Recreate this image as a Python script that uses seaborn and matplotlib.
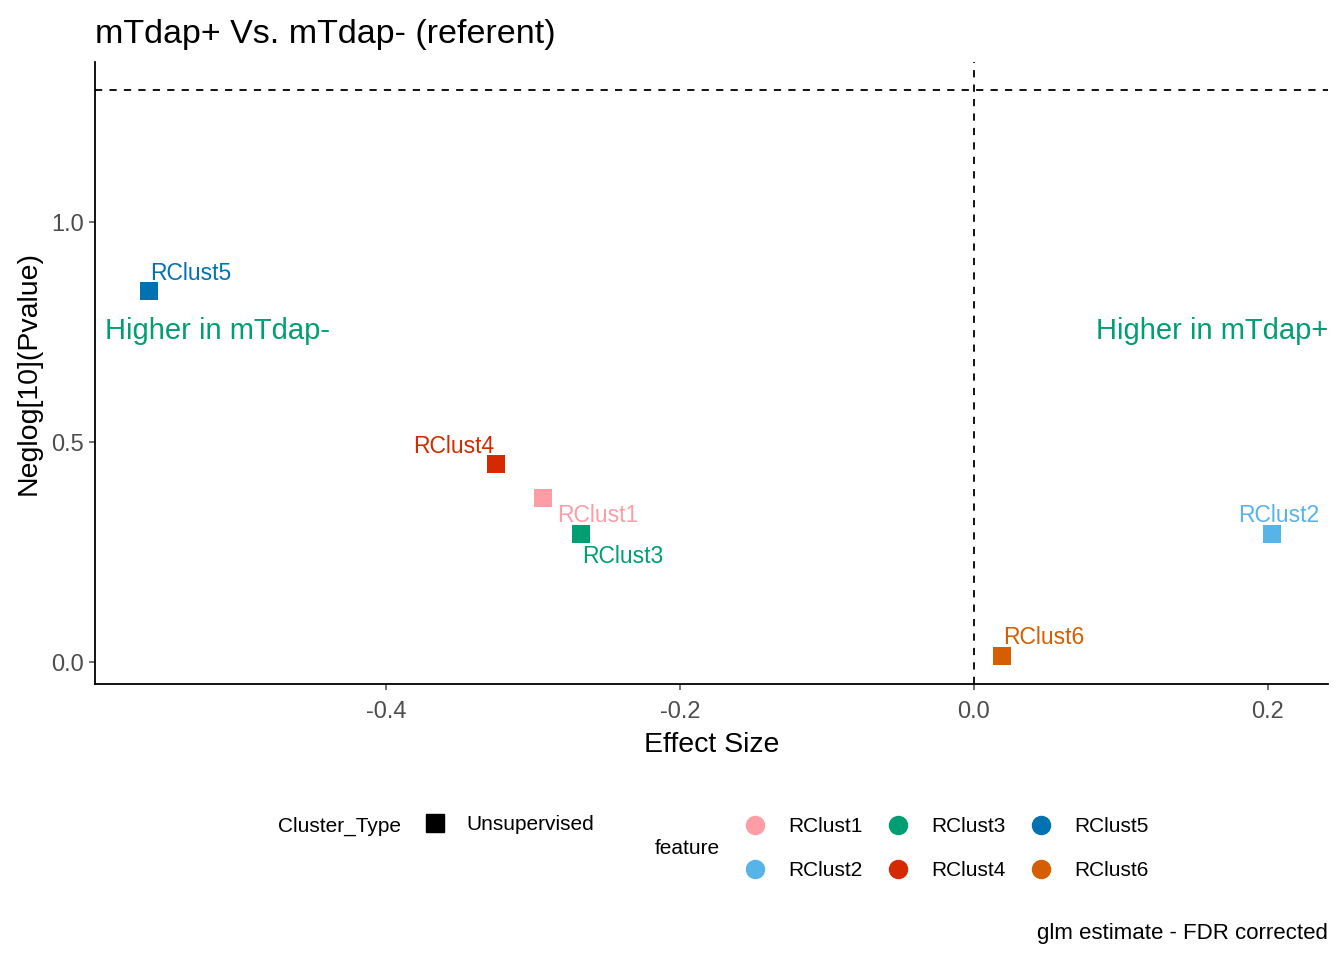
import matplotlib
matplotlib.use("Agg")
import matplotlib.pyplot as plt
from matplotlib.lines import Line2D
import seaborn as sns
import pandas as pd

features = ['RClust1', 'RClust2', 'RClust3', 'RClust4', 'RClust5', 'RClust6']
effect = [-0.293, 0.203, -0.267, -0.325, -0.561, 0.019]
neglogp = [0.373, 0.291, 0.291, 0.450, 0.843, 0.014]
colors = ['#FF9DA7', '#56B4E9', '#009E73', '#D52A00', '#0072B2', '#D55E00']
# label offsets (pixels) and alignment, mimic ggrepel placement
lab_dx = [14, 7, 1, -2, 1, 1]
lab_dy = [-18, 18, -23, 18, 18, 18]
lab_ha = ['left', 'center', 'left', 'right', 'left', 'left']

df = pd.DataFrame({'feature': features, 'effect': effect, 'neglogp': neglogp,
                   'Cluster_Type': 'Unsupervised'})
pal = dict(zip(features, colors))

sns.set_style("white")
plt.rcParams['font.family'] = ['Liberation Sans', 'DejaVu Sans']
plt.rcParams['text.color'] = 'black'
plt.rcParams['axes.labelcolor'] = 'black'

fig = plt.figure(figsize=(13.44, 9.6), dpi=100)
ax = fig.add_axes([95/1344, 1-684/960, (1328-95)/1344, (684-62)/960])

sns.scatterplot(data=df, x='effect', y='neglogp', hue='feature', palette=pal,
                marker='s', s=170, edgecolor='none', legend=False, ax=ax, zorder=3)

ax.axhline(1.301, color='black', ls=(0, (4, 4)), lw=1.3)
ax.axvline(0, color='black', ls=(0, (4, 4)), lw=1.3)

for i in range(len(features)):
    ax.annotate(features[i], (effect[i], neglogp[i]), xytext=(lab_dx[i]*0.72, lab_dy[i]*0.72),
                textcoords='offset points', ha=lab_ha[i], va='center',
                color=colors[i], fontsize=16.5)

ax.text(-0.591, 0.752, 'Higher in mTdap-', color='#009E73', fontsize=21, ha='left', va='center')
ax.text(0.241, 0.752, 'Higher in mTdap+', color='#009E73', fontsize=21, ha='right', va='center')

ax.set_xlim(-0.598, 0.241)
ax.set_ylim(-0.05, 1.364)
ax.set_xticks([-0.4, -0.2, 0.0, 0.2])
ax.set_yticks([0.0, 0.5, 1.0])
ax.set_xticklabels(['-0.4', '-0.2', '0.0', '0.2'])
ax.set_yticklabels(['0.0', '0.5', '1.0'])
ax.tick_params(axis='both', colors='#4D4D4D', labelsize=17, length=4, width=1.1,
               bottom=True, left=True, labelcolor='#4D4D4D', pad=4)
ax.tick_params(axis='x', pad=8.5)
for s in ['top', 'right']:
    ax.spines[s].set_visible(False)
for s in ['left', 'bottom']:
    ax.spines[s].set_color('black')
    ax.spines[s].set_linewidth(1.3)

ax.set_xlabel('Effect Size', fontsize=20.5, labelpad=6)
ax.set_ylabel('Neglog[10](Pvalue)', fontsize=20.5, labelpad=7)
ax.set_title('mTdap+ Vs. mTdap- (referent)', fontsize=24.5, loc='left', pad=14)

# legends
ct_handles = [Line2D([], [], marker='s', ls='', color='black', markersize=13)]
leg1 = fig.legend(ct_handles, ['Unsupervised'], loc='center left',
                  bbox_to_anchor=(395/1344, 1-825/960), frameon=False, fontsize=15,
                  handletextpad=0.55)
fig.text(278/1344, 1-826/960, 'Cluster_Type', fontsize=15, va='center', ha='left')

ft_handles = [Line2D([], [], marker='o', ls='', color=c, markersize=13) for c in colors]
leg2 = fig.legend(ft_handles, features, loc='center left', ncol=3,
                  bbox_to_anchor=(715/1344, 1-849/960), frameon=False, fontsize=15,
                  handletextpad=0.6, columnspacing=0.7, labelspacing=1.2)
fig.text(655/1344, 1-849/960, 'feature', fontsize=15, va='center', ha='left')

fig.text(1328/1344, 1-933/960, 'glm estimate - FDR corrected', fontsize=16,
         ha='right', va='center')

fig.savefig('out.png', dpi=100)
